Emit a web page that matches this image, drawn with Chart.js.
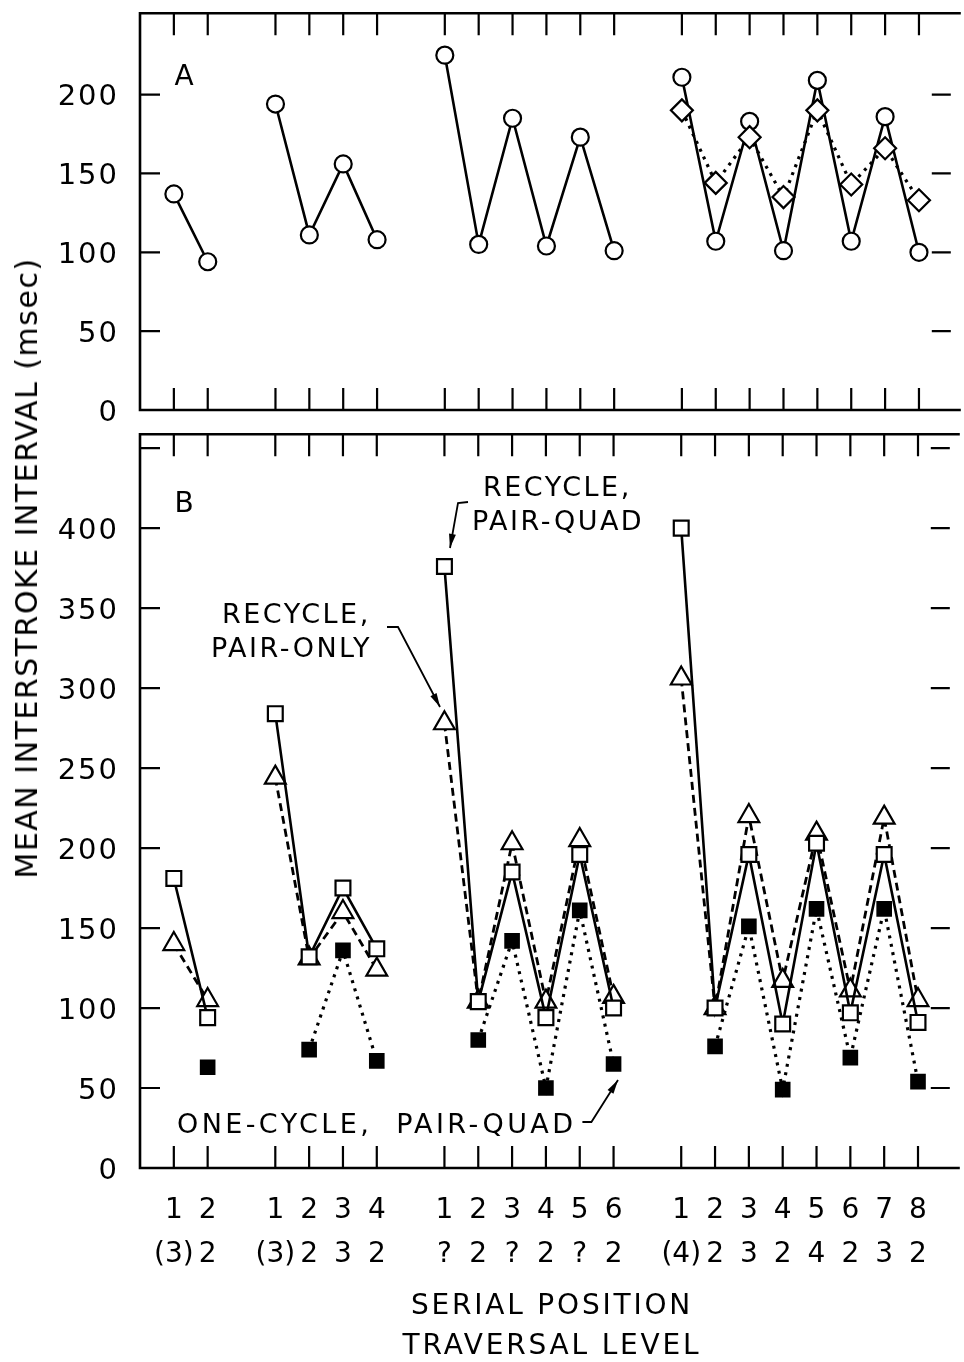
<!DOCTYPE html>
<html lang="en">
  <head>
    <meta charset="UTF-8" />
    <title>Mean Interstroke Interval</title>
    <script src="https://cdn.jsdelivr.net/npm/chart.js"></script>
    <style>
      body {
        margin: 0;
        width: 964px;
        height: 1362px;
        position: relative;
        overflow: hidden;
        background: #ffffff;
        font-family: "DejaVu Sans", sans-serif;
      }
      #chartA { position: absolute; left: 0; top: 0; }
      #chartB { position: absolute; left: 0; top: 420px; }
      #yTitle {
        position: absolute;
        left: 27px;
        top: 568px;
        transform: translate(-50%, -50%) rotate(-90deg);
        white-space: nowrap;
        font-size: 30px;
        letter-spacing: 1.5px;
        line-height: 1;
        color: #000;
      }
    </style>
  </head>
  <body>
    <canvas id="chartA" width="964" height="430"></canvas>
    <canvas id="chartB" width="964" height="942"></canvas>
    <div id="yTitle">MEAN INTERSTROKE INTERVAL (msec)</div>
    <script>
      // 23 slots along x; the empty slots (2, 7, 14) separate the list lengths
      const serialPos = ["1", "2", "", "1", "2", "3", "4", "", "1", "2", "3", "4", "5", "6", "",
                         "1", "2", "3", "4", "5", "6", "7", "8"];
      const traversal = ["(3)", "2", "", "(3)", "2", "3", "2", "", "?", "2", "?", "2", "?", "2", "",
                         "(4)", "2", "3", "2", "4", "2", "3", "2"];

      // panel A
      const aCircle = [137, 94, null, 194, 111, 156, 108, null, 225, 105, 185, 104, 173, 101, null,
                       211, 107, 183, 101, 209, 107, 186, 100];
      const aDiamond = [null, null, null, null, null, null, null, null, null, null, null, null, null, null, null,
                        190, 144, 173, 135, 190, 143, 166, 133];

      // panel B
      const recyclePairQuad = [181, 94, null, 284, 132, 175, 137, null, 376, 104, 185, 94, 196, 100, null,
                               400, 100, 196, 90, 203, 97, 196, 91];
      const recyclePairOnly = [140, 105, null, 244, 131, 160, 124, null, 278, 104, 203, 104, 205, 107, null,
                               306, 100, 220, 117, 209, 111, 219, 105];
      const oneCyclePairQuad = [null, 63, null, null, 74, 136, 67, null, null, 80, 142, 50, 161, 65, null,
                                null, 76, 151, 49, 162, 69, 162, 54];

      const aYLabels = [0, 50, 100, 150, 200];
      const aYMarks = [50, 100, 150, 200];
      const bYLabels = [0, 50, 100, 150, 200, 250, 300, 350, 400];
      const bYMarks = [50, 100, 150, 200, 250, 300, 350, 400, 450];

      const FONT = '"DejaVu Sans", sans-serif';
      const pts = (arr) => arr.map((v, i) => ({ x: i, y: v }));

      function text(ctx, str, x, y, size, align, spacing) {
        ctx.font = size + "px " + FONT;
        ctx.letterSpacing = (spacing || 0) + "px";
        ctx.textAlign = align;
        ctx.textBaseline = "alphabetic";
        // y is the middle of the capitals
        ctx.fillText(str, x, y + size * 0.365);
        return x + ctx.measureText(str).width;
      }

      function leader(ctx, p) {
        ctx.beginPath();
        ctx.moveTo(p[0][0], p[0][1]);
        for (let i = 1; i < p.length; i++) ctx.lineTo(p[i][0], p[i][1]);
        ctx.stroke();
        const [x1, y1] = p[p.length - 2];
        const [x2, y2] = p[p.length - 1];
        const ang = Math.atan2(y2 - y1, x2 - x1);
        ctx.beginPath();
        ctx.moveTo(x2, y2);
        ctx.lineTo(x2 - 14 * Math.cos(ang) + 3.5 * Math.sin(ang), y2 - 14 * Math.sin(ang) - 3.5 * Math.cos(ang));
        ctx.lineTo(x2 - 14 * Math.cos(ang) - 3.5 * Math.sin(ang), y2 - 14 * Math.sin(ang) + 3.5 * Math.cos(ang));
        ctx.closePath();
        ctx.fill();
      }

      // frame, inward ticks and labels, drawn with the chart's own scales
      function makeAxes(cfg) {
        return {
          id: "axes",
          beforeDatasetsDraw(chart) {
            const { ctx, chartArea: a, scales: { x, y } } = chart;
            ctx.save();
            ctx.strokeStyle = "#000";
            ctx.lineWidth = 2.6;
            ctx.beginPath();
            ctx.moveTo(a.right + 10, a.top);
            ctx.lineTo(a.left, a.top);
            ctx.lineTo(a.left, a.bottom);
            ctx.lineTo(a.right + 10, a.bottom);
            ctx.stroke();
            ctx.lineWidth = 2.2;
            ctx.beginPath();
            serialPos.forEach((s, i) => {
              if (!s) return;
              const px = x.getPixelForValue(i);
              ctx.moveTo(px, a.top);
              ctx.lineTo(px, a.top + 22);
              ctx.moveTo(px, a.bottom);
              ctx.lineTo(px, a.bottom - 22);
            });
            cfg.marks.forEach((v) => {
              const py = y.getPixelForValue(v);
              ctx.moveTo(a.left, py);
              ctx.lineTo(a.left + 20, py);
              ctx.moveTo(a.right, py);
              ctx.lineTo(a.right - 19, py);
            });
            ctx.stroke();
            ctx.restore();
          },
          afterDraw(chart) {
            const { ctx, chartArea: a, scales: { x, y } } = chart;
            ctx.save();
            ctx.fillStyle = "#000";
            ctx.strokeStyle = "#000";
            cfg.labels.forEach((v) => text(ctx, String(v), 119, y.getPixelForValue(v), 29, "right", 2));
            text(ctx, cfg.letter, 184, a.top + cfg.letterDy, 28, "center", 0);
            if (cfg.xLabels) {
              serialPos.forEach((s, i) => {
                if (!s) return;
                const px = x.getPixelForValue(i);
                text(ctx, s, px, a.bottom + 40, 28, "center", 0);
                text(ctx, traversal[i], px, a.bottom + 84, 28, "center", 0);
              });
              text(ctx, "SERIAL POSITION", 552, a.bottom + 136, 28, "center", 2.8);
              text(ctx, "TRAVERSAL LEVEL", 552, a.bottom + 176, 28, "center", 2.8);
            }
            if (cfg.notes) {
              ctx.lineWidth = 1.8;
              text(ctx, "RECYCLE,", 483, 66, 27, "left", 2.5);
              text(ctx, "PAIR-QUAD", 472, 100, 27, "left", 2.5);
              leader(ctx, [[468, 82], [458, 83], [450, 128]]);
              text(ctx, "RECYCLE,", 222, 193, 27, "left", 2.5);
              text(ctx, "PAIR-ONLY", 211, 227, 27, "left", 2.5);
              leader(ctx, [[387, 207], [398, 207], [440, 287]]);
              const end = text(ctx, "ONE-CYCLE,  PAIR-QUAD", 177, 703, 27, "left", 3.4);
              leader(ctx, [[end + 6, 702], [end + 15, 702], [618, 660]]);
            }
            ctx.restore();
          },
        };
      }

      const marker = (style, radius, fill) => ({
        pointStyle: style,
        pointRadius: radius,
        pointHoverRadius: radius,
        pointBackgroundColor: fill,
        pointBorderColor: "#000",
        pointBorderWidth: 2.2,
        borderColor: "#000",
        borderWidth: 2.6,
        tension: 0,
        spanGaps: false,
      });

      const baseOptions = (yMax, padding) => ({
        responsive: false,
        maintainAspectRatio: false,
        animation: false,
        layout: { padding },
        plugins: { legend: { display: false }, tooltip: { enabled: false } },
        scales: {
          x: { type: "linear", min: -1, max: 22.94, display: false },
          y: { type: "linear", min: 0, max: yMax, display: false },
        },
      });

      new Chart(document.getElementById("chartA"), {
        type: "line",
        data: {
          datasets: [
            { data: pts(aCircle), order: 1, ...marker("circle", 8.5, "#fff") },
            { data: pts(aDiamond), order: 0, ...marker("rectRot", 11, "#fff"),
              borderDash: [3, 5.5], borderWidth: 3.2 },
          ],
        },
        options: baseOptions(251.6, { left: 140, top: 5, right: 0, bottom: 20 }),
        plugins: [makeAxes({ marks: aYMarks, labels: aYLabels, letter: "A", letterDy: 62 })],
      });

      new Chart(document.getElementById("chartB"), {
        type: "line",
        data: {
          datasets: [
            { data: pts(recyclePairQuad), order: 0, ...marker("rect", 10.5, "#fff") },
            { data: pts(recyclePairOnly), order: 1, ...marker("triangle", 12, "#fff"),
              borderDash: [8, 5], borderWidth: 2.8 },
            { data: pts(oneCyclePairQuad), order: 2, ...marker("rect", 9.5, "#000"),
              borderDash: [3, 5.5], borderWidth: 3.2 },
          ],
        },
        options: baseOptions(458.7, { left: 140, top: 13, right: 0, bottom: 194 }),
        plugins: [makeAxes({ marks: bYMarks, labels: bYLabels, letter: "B", letterDy: 68,
                             xLabels: true, notes: true })],
      });
    </script>
  </body>
</html>
